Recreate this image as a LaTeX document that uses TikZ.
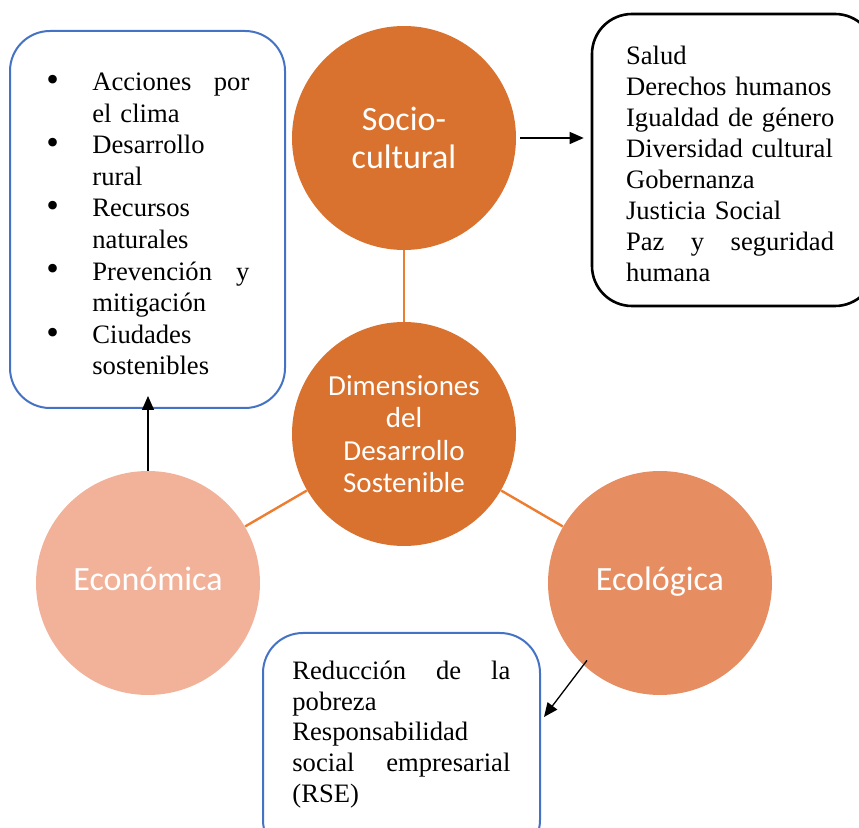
\documentclass[tikz,border=0pt]{standalone}
\usepackage{fontspec}
\setmainfont{Liberation Serif}
\setsansfont{Carlito}
\usetikzlibrary{arrows.meta,positioning}

\definecolor{naranjaosc}{HTML}{D9722E}
\definecolor{naranjamed}{HTML}{E68D62}
\definecolor{salmon}{HTML}{F2B29A}
\definecolor{enlace}{HTML}{ED7D31}
\definecolor{azul}{HTML}{4472C4}

% bullet items with hanging text, lines broken by hand
\newcommand{\sigue}{\hfil\break}
\newcommand{\vineta}[1]{\par\noindent\hangindent=23pt\hangafter=1\makebox[23pt][l]{\raisebox{-0.4pt}{\scalebox{1.35}{\textbullet}}}#1}

\tikzset{
  dimension/.style={circle, minimum size=112pt, inner sep=0pt, text=white,
    font=\sffamily\fontsize{17}{19}\selectfont, align=center},
  caja/.style={rectangle, rounded corners=20pt, draw=azul, line width=1pt},
  lista/.style={inner sep=0pt, anchor=north west, font=\fontsize{13.3}{15.5}\selectfont},
  flecha/.style={-{Triangle[length=7pt,width=6pt]}, line width=0.65pt},
  enlace/.style={draw=enlace, line width=1.2pt}
}

\begin{document}
\begin{tikzpicture}[x=0.5pt,y=-0.5pt]
    \useasboundingbox (0,0) rectangle (859,828);
    \clip (0,0) rectangle (859,828);

    % Dimension circles
    \node[dimension, fill=naranjaosc] (socio) at (404,138) {Socio-\\cultural};
    \node[dimension, fill=naranjaosc, font=\sffamily\fontsize{14.5}{16.2}\selectfont] (centro) at (404,434) {Dimensiones\\del\\Desarrollo\\Sostenible};
    \node[dimension, fill=salmon] (economica) at (148,583) {\strut Económica};
    \node[dimension, fill=naranjamed] (ecologica) at (660,583) {\strut Ecológica};
    \draw[enlace] (centro) -- (socio);
    \draw[enlace] (centro) -- (economica);
    \draw[enlace] (centro) -- (ecologica);

    % Boxes with the topics
    \node[caja, minimum width=137.5pt, minimum height=188.5pt] (ambiental) at (147.5,219.5) {};
    \node[caja, draw=black, line width=1.3pt, minimum width=141.5pt, minimum height=146pt] (social) at (733.5,160) {};
    \node[caja, minimum width=138.5pt, minimum height=113.5pt] (rse) at (401.5,746.5) {};

    \node[lista, text width=101.5pt, font=\fontsize{13.3}{15.8}\selectfont] (ambtxt) at ([xshift=18.5pt,yshift=-14.3pt]ambiental.north west) {%
        \vineta{\strut Acciones\hfill por\sigue el clima}
        \vineta{Desarrollo\sigue rural}
        \vineta{Recursos\sigue naturales}
        \vineta{Prevención\hfill y\sigue mitigación}
        \vineta{Ciudades\sigue sostenibles}\par};
    \node[lista, text width=115pt] (soctxt) at ([xshift=17.5pt,yshift=-14.9pt]social.north west) {%
        \noindent\strut Salud\\Derechos humanos\\Igualdad de género\\Diversidad cultural\\Gobernanza\\Justicia Social\\\makebox[104pt][s]{Paz\hfill y\hfill seguridad}\\humana\par};
    \node[lista, text width=115pt, font=\fontsize{13.3}{15.4}\selectfont] (rsetxt) at ([xshift=15pt,yshift=-12.7pt]rse.north west) {%
        \noindent\strut\makebox[109pt][s]{Reducción\hfill de\hfill la}\\pobreza\\Responsabilidad\\\makebox[109pt][s]{social\hfill empresarial}\\(RSE)\par};

    % Arrows to the boxes
    \draw[flecha, shorten >=3.5pt] ([xshift=2pt]socio.east) -- (socio.east -| social.west);
    \draw[flecha, shorten >=-6.5pt] (economica.north) -- (economica.north |- ambiental.south);
    \draw[flecha, shorten <=-3pt] (ecologica.227) -- ([xshift=1.5pt,yshift=14.75pt]rse.east);
\end{tikzpicture}
\end{document}
